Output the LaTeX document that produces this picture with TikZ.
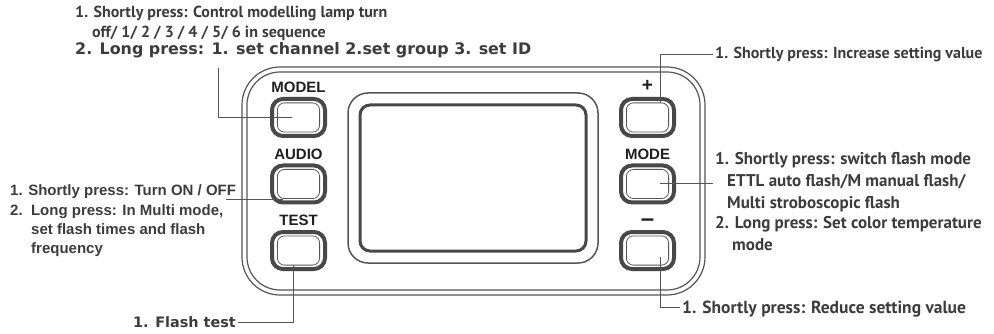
\documentclass[tikz,border=0pt]{standalone}
\usepackage{fontspec}
\setmainfont{Liberation Sans}
\newfontfamily\humanfont{PT Sans}
\newfontfamily\broadfont{DejaVu Sans}
\usetikzlibrary{positioning}
\definecolor{inkgray}{HTML}{3C3C3C}
\definecolor{linegray}{HTML}{555555}
\definecolor{keygray}{HTML}{484848}
\newcommand{\slimnote}{\humanfont\bfseries\fontsize{16}{18}\selectfont}
\newcommand{\modenote}{\humanfont\bfseries\fontsize{17}{19}\selectfont}
\newcommand{\widenote}{\broadfont\bfseries\fontsize{15.9}{17}\selectfont}
\newcommand{\plainnote}{\bfseries\fontsize{15}{17}\selectfont}
\tikzstyle{keybox} = [rectangle, 
rounded corners=11pt, 
minimum width=53pt, 
minimum height=37pt, 
draw=keygray, 
line width=4pt]
\tikzstyle{keyinner} = [rectangle, 
rounded corners=7pt, 
minimum width=42.2pt, 
minimum height=29.2pt, 
draw=linegray, 
line width=0.8pt]
\tikzstyle{keylabel} = [inner sep=0pt, text=black!88, font=\bfseries\fontsize{15}{15}\selectfont]
\tikzstyle{note} = [anchor=base west, inner sep=0pt, text=inkgray]
\tikzstyle{callout} = [draw=linegray, line width=0.9pt]

\begin{document}
\begin{tikzpicture}[x=1pt, y=-1pt]

  \useasboundingbox (0,0) rectangle (994,334);

  % housing and display
  \draw [linegray, line width=1.2pt, rounded corners=38pt] (242,67) rectangle (705,295);
  \draw [linegray, line width=1.2pt, rounded corners=33pt] (247,72) rectangle (700,290);
  \draw [linegray, line width=1.5pt, rounded corners=20pt] (348,93) rectangle (598,263);
  \draw [keygray, line width=3pt, rounded corners=10pt] (360,105) rectangle (586,251);

  % keys
  \foreach \name/\x/\y in {model/298.5/117.5, audio/298.5/184, test/298.5/250.5,
                          plus/647.5/117.5, mode/647.5/184, minus/647.5/250.5} {
    \node (\name) [keybox] at (\x,\y) {};
    \node [keyinner] at (\name.center) {};
  }

  \node [keylabel, above=4pt of model] {MODEL};
  \node [keylabel, above=4pt of audio] {AUDIO};
  \node [keylabel, above=4pt of test] {TEST};
  \node [keylabel, above=4pt of mode] {MODE};
  \node [keylabel, above=5pt of plus, font=\bfseries\fontsize{19}{19}\selectfont] {+};
  \node [keylabel, above=3pt of minus, font=\bfseries\fontsize{24}{24}\selectfont] {–};

  % texts
  \node (modeltxta) [note, font=\slimnote] at (75,18) {1. Shortly press: Control modelling lamp turn};
  \node (modeltxtb) [note, font=\slimnote] at (92,38) {off/ 1/ 2 / 3 / 4 / 5/ 6 in sequence};
  \node (modeltxtc) [note, font=\widenote] at (75,55) {2. Long press: 1. set channel 2.set group 3. set ID};

  \node (audiotxta) [note, font=\plainnote] at (10,196) {1. Shortly press: Turn ON / OFF};
  \node (audiotxtb) [note, font=\plainnote] at (10,215) {2.\ \ Long press: In Multi mode,};
  \node (audiotxtc) [note, font=\plainnote] at (31,234) {set flash times and flash};
  \node (audiotxtd) [note, font=\plainnote] at (31,253) {frequency};

  \node (testtxt) [note, anchor=base east, font=\broadfont\bfseries\fontsize{14.4}{16}\selectfont] at (236,327) {1. Flash test};

  \node (plustxt) [note, font=\slimnote] at (715,59) {1. Shortly press: Increase setting value};

  \node (modetxta) [note, font=\modenote] at (715,165) {1. Shortly press: switch flash mode};
  \node (modetxtb) [note, font=\modenote] at (727,187) {ETTL auto flash/M manual flash/};
  \node (modetxtc) [note, font=\modenote] at (727,208) {Multi stroboscopic flash};
  \node (modetxtd) [note, font=\modenote] at (715,229) {2. Long press: Set color temperature};
  \node (modetxte) [note, font=\modenote] at (732,250) {mode};

  \node (minustxt) [note, font=\humanfont\bfseries\fontsize{17.5}{20}\selectfont] at (682,313) {1. Shortly press: Reduce setting value};

  % callouts
  \coordinate (modelend) at (218,68);
  \coordinate (audioend) at (226,199);
  \coordinate (testend) at (238,322);
  \coordinate (plusend) at (713,54);
  \coordinate (modeend) at (713,183);
  \coordinate (minusend) at (680,307);

  \draw [callout] ([xshift=-6.5pt]model.center) -| (modelend);
  \draw [callout] ([xshift=-15.5pt, yshift=-15pt]audio.center) -- (audioend);
  \draw [callout] ([xshift=-5.5pt, yshift=-14.5pt]test.center) |- (testend);
  \draw [callout] ([xshift=12.5pt, yshift=14.5pt]plus.center) |- (plusend);
  \draw [callout] ([xshift=12.5pt, yshift=1pt]mode.center) -- (modeend);
  \draw [callout] ([xshift=12.5pt, yshift=-6.5pt]minus.center) |- (minusend);

\end{tikzpicture}
\end{document}
